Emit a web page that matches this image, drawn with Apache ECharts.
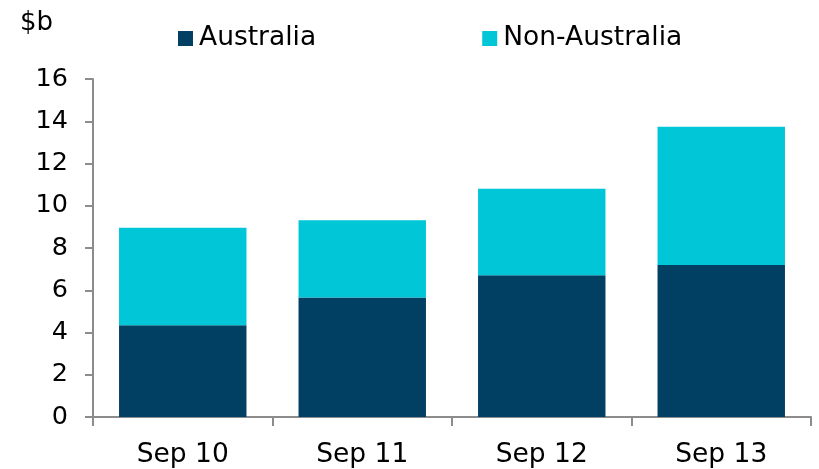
<!DOCTYPE html>
<html>
<head>
<meta charset="utf-8">
<script src="https://cdn.jsdelivr.net/npm/echarts@6/dist/echarts.min.js"></script>
<style>html,body{margin:0;padding:0;background:#fff}#c{width:819px;height:469px}</style>
</head>
<body>
<div id="c"></div>
<script>
var categories = ['Sep 10', 'Sep 11', 'Sep 12', 'Sep 13'];
var australia = [4.34, 5.66, 6.71, 7.19];
var nonAustralia = [4.62, 3.65, 4.09, 6.55];
var yTicks = [0, 2, 4, 6, 8, 10, 12, 14, 16];

var FONT = 'DejaVu Sans, Verdana, sans-serif';
var axisColor = '#8c8c8c';
var chart = echarts.init(document.getElementById('c'), null, {renderer: 'canvas'});
chart.setOption({
  animation: false,
  backgroundColor: '#fff',
  textStyle: {fontFamily: FONT},
  graphic: [{
    type: 'text', left: 20, top: 10,
    style: {text: '$b', font: '26px ' + FONT, fill: '#000'}
  }],
  legend: {
    left: 178, top: 25, padding: 0,
    itemWidth: 15, itemHeight: 15, itemGap: 166,
    icon: 'rect',
    textStyle: {fontSize: 26.5, color: '#000', fontFamily: FONT, padding: [0, 0, 0, 1]},
    data: ['Australia', 'Non-Australia']
  },
  grid: {left: 93, right: 8, top: 79, bottom: 51, containLabel: false},
  xAxis: {
    type: 'category',
    data: categories,
    axisLine: {lineStyle: {color: axisColor, width: 2}},
    axisTick: {show: true, alignWithLabel: false, length: 9, lineStyle: {color: axisColor, width: 2}},
    axisLabel: {fontSize: 26.5, color: '#000', margin: 25, fontFamily: FONT}
  },
  yAxis: {
    type: 'value',
    min: yTicks[0], max: yTicks[yTicks.length - 1], interval: 2,
    axisLine: {show: true, lineStyle: {color: axisColor, width: 2}},
    axisTick: {show: true, length: 8, lineStyle: {color: axisColor, width: 2}},
    splitLine: {show: false},
    axisLabel: {fontSize: 25.5, color: '#000', margin: 25, fontFamily: FONT}
  },
  series: [{
    name: 'Australia', type: 'bar', stack: 'total',
    data: australia, barCategoryGap: '29%',
    itemStyle: {color: '#024063'}
  }, {
    name: 'Non-Australia', type: 'bar', stack: 'total',
    data: nonAustralia, barCategoryGap: '29%',
    itemStyle: {color: '#00C6D8'}
  }]
});
</script>
</body>
</html>
